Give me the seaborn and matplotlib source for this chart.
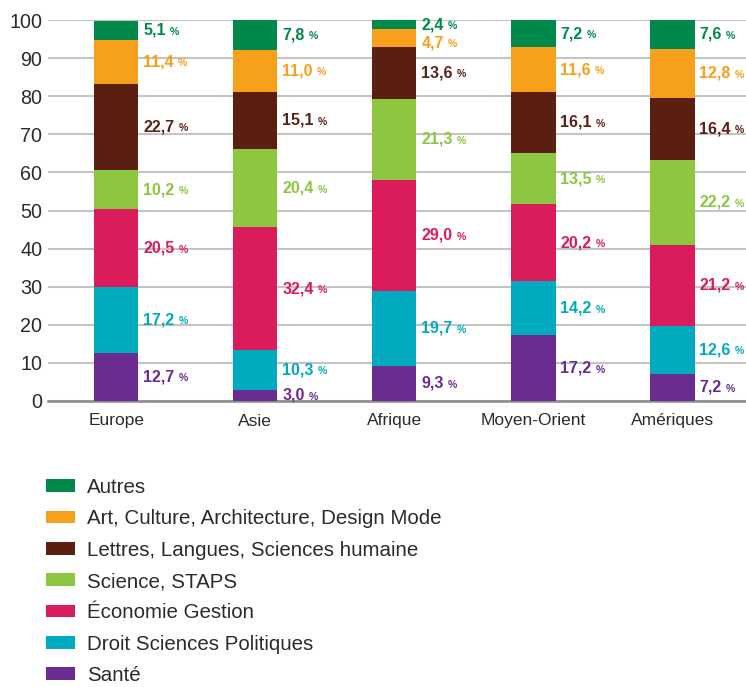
import matplotlib
matplotlib.use("Agg")
import matplotlib.pyplot as plt
import seaborn as sns
import numpy as np
import pandas as pd
from matplotlib.patches import Patch
from matplotlib.offsetbox import TextArea, HPacker, AnnotationBbox

regions = ["Europe", "Asie", "Afrique", "Moyen-Orient", "Amériques"]
categories = ["Santé", "Droit Sciences Politiques", "Économie Gestion", "Science, STAPS",
              "Lettres, Langues, Sciences humaine", "Art, Culture, Architecture, Design Mode", "Autres"]
sante = [12.7, 3.0, 9.3, 17.2, 7.2]
droit = [17.2, 10.3, 19.7, 14.2, 12.6]
economie = [20.5, 32.4, 29.0, 20.2, 21.2]
science = [10.2, 20.4, 21.3, 13.5, 22.2]
lettres = [22.7, 15.1, 13.6, 16.1, 16.4]
art = [11.4, 11.0, 4.7, 11.6, 12.8]
autres = [5.1, 7.8, 2.4, 7.2, 7.6]
yticks = [0, 10, 20, 30, 40, 50, 60, 70, 80, 90, 100]

series = [sante, droit, economie, science, lettres, art, autres]
colors = ["#6a2c91", "#00abbf", "#da1c5c", "#8dc63f", "#5b1f12", "#f6a01c", "#00894b"]
label_colors = ["#6a2c91", "#00abbf", "#da1c5c", "#8dc63f", "#5b2218", "#f6a01c", "#00894b"]

sns.set_style("white")
plt.rcParams['font.family'] = ['Liberation Sans', 'DejaVu Sans']
NARROW = ['Liberation Sans Narrow', 'Liberation Sans', 'DejaVu Sans']

fig = plt.figure(figsize=(7.46, 6.87), dpi=100)
ax = fig.add_axes([48/746, 286/687, 1 - 48/746, 381/687])

data = np.array(series)
cum = np.cumsum(data, axis=0)
bw = 0.32
# draw cumulative bars from top category down so lower ones overlay
for i in range(len(series) - 1, -1, -1):
    df = pd.DataFrame({"region": regions, "value": cum[i]})
    sns.barplot(data=df, x="region", y="value", order=regions, color=colors[i],
                saturation=1, width=bw, ax=ax, zorder=3, linewidth=0, edgecolor="none")

# value labels
for j in range(len(regions)):
    centers = []
    for i in range(len(series)):
        lo = cum[i][j] - data[i][j]
        centers.append((lo + cum[i][j]) / 2)
    mins = 4.8
    for i in range(len(series) - 2, -1, -1):
        if centers[i + 1] - centers[i] < mins:
            centers[i] = centers[i + 1] - mins
    for i in range(len(series)):
        num = f"{data[i][j]:.1f}".replace(".", ",")
        t1 = TextArea(num, textprops=dict(color=label_colors[i], fontsize=11.5,
                                           fontweight="bold", family=NARROW))
        t2 = TextArea("%", textprops=dict(color=label_colors[i], fontsize=7.5,
                                           fontweight="bold", family=NARROW))
        box = HPacker(children=[t1, t2], align="baseline", pad=0, sep=3)
        ab = AnnotationBbox(box, (j + bw/2 + 0.035, centers[i]), xycoords="data",
                            box_alignment=(0, 0.5), frameon=False, pad=0, zorder=5)
        ax.add_artist(ab)

ax.set_ylim(0, 100)
ax.set_xlim(-0.49, 4.53)
ax.set_yticks(yticks)
ax.set_yticklabels([str(v) for v in yticks], fontsize=14.2, color="#2b2b2b")
ax.tick_params(axis="y", length=0, pad=4)
ax.set_xticks(range(len(regions)))
ax.set_xticklabels(regions, fontsize=12.5, color="#2b2b2b", family=NARROW)
ax.tick_params(axis="x", length=0, pad=9)
ax.set_xticks([0.5, 1.5, 2.5, 3.5], minor=True)
ax.tick_params(axis="x", which="minor", direction="in", length=6, width=1.2, color="#555555")
ax.set_xlabel("")
ax.set_ylabel("")
ax.yaxis.grid(True, color="#c4c4c4", linewidth=1.5, zorder=0)
ax.set_axisbelow(True)
for s in ["top", "right", "left"]:
    ax.spines[s].set_visible(False)
ax.spines["bottom"].set_color("#8a8a8a")
ax.spines["bottom"].set_linewidth(1.8)

handles = [Patch(facecolor=colors[i], edgecolor="none") for i in range(len(series) - 1, -1, -1)]
labels = [categories[i] for i in range(len(series) - 1, -1, -1)]
fig.legend(handles, labels, loc="upper left", bbox_to_anchor=(46/746, 1 - 478/687),
           frameon=False, fontsize=14.8, handlelength=1.4, handleheight=0.58,
           handletextpad=0.58, labelspacing=0.6, borderpad=0, borderaxespad=0,
           labelcolor="#2b2b2b")

fig.savefig("out.png", dpi=100)
